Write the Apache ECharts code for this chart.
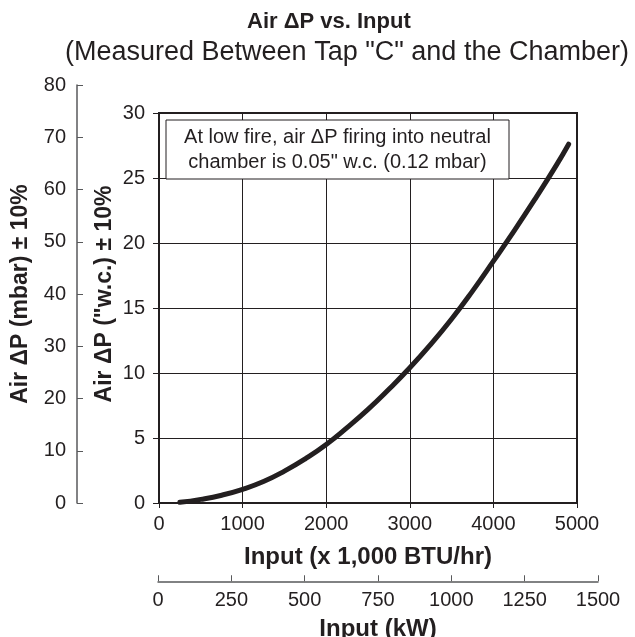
<!DOCTYPE html>
<html>
<head>
<meta charset="utf-8">
<script src="https://cdn.jsdelivr.net/npm/echarts@6/dist/echarts.min.js"></script>
<style>
html,body{margin:0;padding:0;background:#fff;}
#chart{width:635px;height:637px;}
</style>
</head>
<body>
<div id="chart"></div>
<script>
// Input (x 1,000 BTU/hr)
const inputBtu = [250, 500, 750, 1000, 1250, 1500, 1750, 2000, 2250, 2500, 2750, 3000, 3250, 3500, 3750, 4000, 4250, 4500, 4750, 4900];
// Air dP ("w.c.)
const airDpWc = [0.05, 0.28, 0.6, 1.05, 1.65, 2.45, 3.4, 4.5, 5.8, 7.2, 8.75, 10.4, 12.2, 14.15, 16.3, 18.6, 20.95, 23.4, 25.95, 27.6];

const titleText = 'Air \u0394P vs. Input';
const subtitleText = '(Measured Between Tap "C" and the Chamber)';
const noteLines = ['At low fire, air \u0394P firing into neutral', 'chamber is 0.05" w.c. (0.12 mbar)'];
const xName = 'Input (x 1,000 BTU/hr)';
const kwName = 'Input (kW)';
const wcName = 'Air \u0394P ("w.c.) \u00b1 10%';
const mbarName = 'Air \u0394P (mbar) \u00b1 10%';

const INK = '#231f20';
const GREY = '#58595b';
const FONT = 'Liberation Sans, Arial, sans-serif';

const chart = echarts.init(document.getElementById('chart'), null, {renderer: 'canvas'});

const plain = v => String(v);
const labelStyle = {color: INK, fontSize: 20, fontFamily: FONT, formatter: plain};
const nameStyle = {color: INK, fontSize: 23, fontWeight: 'bold', fontFamily: FONT};

const option = {
  backgroundColor: '#ffffff',
  animation: false,
  title: [
    {text: titleText, left: 242, top: 6, textStyle: {color: INK, fontSize: 22, fontWeight: 'bold', fontFamily: FONT}},
    {text: subtitleText, left: 60, top: 34, textStyle: {color: INK, fontSize: 27, fontWeight: 'normal', fontFamily: FONT}}
  ],
  grid: [
    {left: 159, right: 58, top: 113, bottom: 134, show: true, borderColor: INK, borderWidth: 2, backgroundColor: 'transparent'},
    {left: 77, width: 1, top: 85, bottom: 134},
    {left: 158, right: 37, bottom: 55, height: 1}
  ],
  xAxis: [
    {gridIndex: 0, type: 'value', min: 0, max: 5000, interval: 1000, position: 'bottom',
     name: xName, nameLocation: 'middle', nameGap: 42, nameTextStyle: Object.assign({}, nameStyle, {fontSize: 24}),
     axisLine: {show: true, lineStyle: {color: INK, width: 2}},
     axisTick: {show: true, length: 5, lineStyle: {color: INK, width: 1}},
     axisLabel: Object.assign({margin: 11}, labelStyle),
     splitLine: {show: true, lineStyle: {color: INK, width: 1}}},
    {gridIndex: 1, type: 'value', show: false, min: 0, max: 1},
    {gridIndex: 2, type: 'value', min: 0, max: 1500, interval: 250, position: 'bottom',
     name: kwName, nameLocation: 'middle', nameGap: 36, nameTextStyle: Object.assign({}, nameStyle, {fontSize: 24}),
     axisLine: {show: true, lineStyle: {color: GREY, width: 1.5}},
     axisTick: {show: true, inside: true, length: 6, lineStyle: {color: GREY, width: 1}},
     axisLabel: Object.assign({margin: 9}, labelStyle),
     splitLine: {show: false}}
  ],
  yAxis: [
    {gridIndex: 0, type: 'value', min: 0, max: 30, interval: 5, position: 'left',
     axisLine: {show: true, lineStyle: {color: INK, width: 2}},
     axisTick: {show: true, length: 6, lineStyle: {color: INK, width: 1}},
     axisLabel: Object.assign({margin: 14}, labelStyle),
     splitLine: {show: true, lineStyle: {color: INK, width: 1}}},
    {gridIndex: 1, type: 'value', min: 0, max: 80, interval: 10, position: 'left',
     name: mbarName, nameLocation: 'middle', nameGap: 45, nameTextStyle: nameStyle,
     axisLine: {show: true, lineStyle: {color: GREY, width: 1.5}},
     axisTick: {show: true, inside: true, length: 6, lineStyle: {color: GREY, width: 1}},
     axisLabel: Object.assign({margin: 11}, labelStyle),
     splitLine: {show: false}},
    {gridIndex: 2, type: 'value', show: false, min: 0, max: 1},
    // carrier for the "w.c. axis title, centred like the reference
    {gridIndex: 1, type: 'value', min: 0, max: 80, position: 'left', offset: -82,
     name: wcName, nameLocation: 'middle', nameGap: 43, nameTextStyle: nameStyle,
     axisLine: {show: false}, axisTick: {show: false}, axisLabel: {show: false}, splitLine: {show: false}}
  ],
  graphic: [
    {type: 'rect', shape: {x: 166, y: 120, width: 343, height: 59}, style: {fill: '#ffffff', stroke: INK, lineWidth: 1}, z: 10},
    {type: 'text', x: 337.5, y: 137, style: {text: noteLines[0], fill: INK, font: '20px ' + FONT, textAlign: 'center', textVerticalAlign: 'middle'}, z: 11},
    {type: 'text', x: 337.5, y: 162, style: {text: noteLines[1], fill: INK, font: '20px ' + FONT, textAlign: 'center', textVerticalAlign: 'middle'}, z: 11}
  ],
  series: [
    {type: 'line', xAxisIndex: 0, yAxisIndex: 0,
     data: inputBtu.map((x, i) => [x, airDpWc[i]]),
     smooth: true, showSymbol: false, symbol: 'none',
     lineStyle: {color: INK, width: 5, cap: 'round', join: 'round'}}
  ]
};
chart.setOption(option);
</script>
</body>
</html>
